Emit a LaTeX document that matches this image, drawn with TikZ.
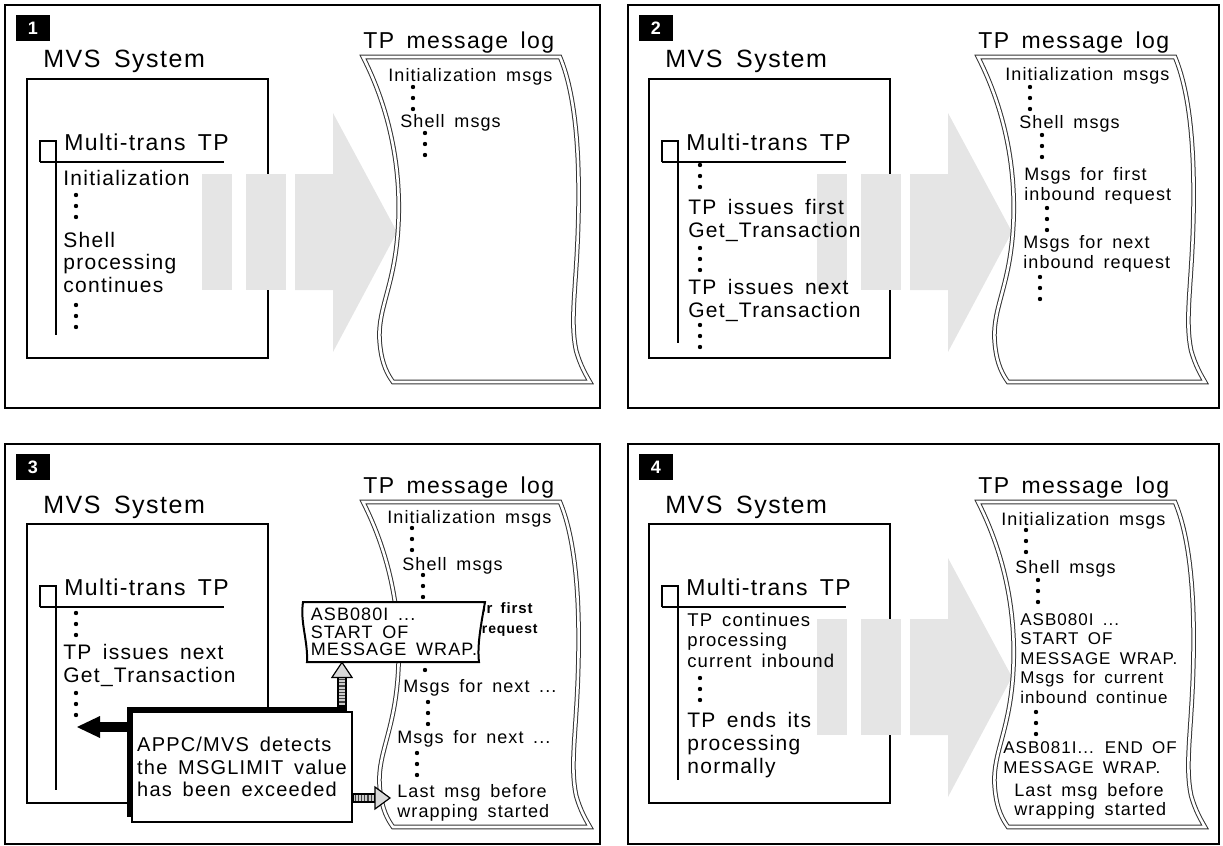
\documentclass[tikz,border=0pt]{standalone}
\usepackage{fontspec}
\setmainfont{Liberation Sans}[LetterSpace=6,WordSpace=1.6]
\usetikzlibrary{calc,shadows,patterns.meta}

\begin{document}
\begin{tikzpicture}[x=0.5pt, y=-0.5pt,
    frame/.style={draw, line width=1.2pt},
    numbox/.style={fill=black, text=white, inner sep=0pt, minimum width=17pt,
      minimum height=13pt, font=\bfseries\fontsize{9}{9}\selectfont},
    sysname/.style={anchor=base west, inner sep=0pt, font=\fontsize{12.5}{13}\selectfont},
    tpname/.style={anchor=base west, inner sep=0pt, font=\fontsize{11.5}{12}\selectfont},
    tpline/.style={anchor=base west, inner sep=0pt, align=left, font=\fontsize{10.5}{11.25}\selectfont},
    logline/.style={anchor=base west, inner sep=0pt, align=left, font=\fontsize{9}{10}\selectfont},
    mvsbox/.style={draw, line width=1.4pt},
    glyph/.style={draw, line width=1.2pt},
    scroll/.style={draw=black!80, fill=white, double=white, line width=0.5pt, double distance=1.3pt},
    graybar/.style={fill=black!10},
    striped/.style={draw, line width=0.6pt, preaction={fill=black!20}, pattern color=black!75},
    tiphead/.style={draw, line width=0.6pt, fill=black!15, line join=miter}
  ]

  \useasboundingbox (0,0) rectangle (1223,846);

  % frames and panel numbers
  \foreach \n/\fx/\fy/\fr/\fb in {1/5/5/600/408, 2/628/5/1219/408, 3/5/444/600/844, 4/628/444/1219/844} {
    \draw[frame] (\fx,\fy) rectangle (\fr,\fb);
    \node[numbox] (num\n) at (\fx+28,\fy+23) {\n};
  }

  % parts every panel has
  \foreach \n/\dx/\dy/\lx/\vb in {1/0/0/0/335, 2/622/0/-7/343, 3/0/445/0/345, 4/622/445/-7/335} {
    \begin{scope}[shift={(\dx,\dy)}]
      \node[sysname] (sys\n) at (43,68) {MVS System};
      \draw[mvsbox] (27,79) rectangle (268,358);
      \draw[glyph] (40,162) -- (40,141) -- (56,141) -- (56,\vb);
      \draw[glyph] (40,162) -- (224,162);
      \node[tpname] (tp\n) at (64,150) {Multi-trans TP};
      \ifnum\n=3 \else
        \begin{scope}[shift={(\lx,0)}]
          \fill[graybar] (202,174) rectangle (232,290);
          \fill[graybar] (246,174) rectangle (286,290);
          \fill[graybar] (295,174) -- (333,174) -- (333,113) -- (397,232)
            -- (333,352) -- (333,290) -- (295,290) -- cycle;
        \end{scope}
      \fi
      \node[tpname] (logt\n) at (363+\lx,48) {TP message log};
      \draw[scroll, shift={(\lx,0)}] (363,57) -- (560,57)
        .. controls (578,100) and (580,170) .. (578,230)
        .. controls (576,290) and (570,320) .. (576,350)
        .. controls (580,365) and (586,375) .. (590,382)
        -- (393,382)
        .. controls (388,375) and (382,365) .. (380,345)
        .. controls (376,310) and (394,290) .. (398,230)
        .. controls (402,170) and (390,110) .. cycle;
    \end{scope}
  }

  % panel 1
  \node[tpline] (init1) at (63,185) {Initialization};
  \node[tpline] (shell1) at (63,292) {Shell\\processing\\continues};
  \node[logline] (linit1) at (388,82) {Initialization msgs};
  \node[logline] (lshell1) at (400,127) {Shell msgs};
  \foreach \x/\y in {76/195, 76/305, 413/87, 425/133}
    \foreach \k in {0,1,2} \fill (\x,\y+11*\k) circle[radius=1.1pt];

  % panel 2
  \begin{scope}[shift={(622,0)}]
    \node[tpline] (first2) at (66,237) {TP issues first\\Get\_Transaction};
    \node[tpline] (next2) at (66,317) {TP issues next\\Get\_Transaction};
    \node[logline] (linit2) at (383,80) {Initialization msgs};
    \node[logline] (lshell2) at (397,128) {Shell msgs};
    \node[logline] (lfirst2) at (402,200) {Msgs for first\\inbound request};
    \node[logline] (lnext2) at (401,268) {Msgs for next\\inbound request};
    \foreach \x/\y in {78/165, 78/248, 78/325, 408/87, 420/135, 425/208, 418/277}
      \foreach \k in {0,1,2} \fill (\x,\y+11*\k) circle[radius=1.1pt];
  \end{scope}

  % panel 3
  \begin{scope}[shift={(0,445)}]
    \node[tpline] (next3) at (63,237) {TP issues next\\Get\_Transaction};
    \node[logline] (linit3) at (387,78) {Initialization msgs};
    \node[logline] (lshell3) at (402,125) {Shell msgs};
    \node[logline, anchor=base east, font=\bfseries\fontsize{7.5}{10}\selectfont] (lfirst3) at (533,168) {Msgs for first};
    \node[logline, anchor=base east, font=\bfseries\fontsize{7}{10}\selectfont] (lreq3) at (538,188) {inbound request};
    \node[logline] (lnexta3) at (403,247) {Msgs for next ...};
    \node[logline] (lnextb3) at (397,298) {Msgs for next ...};
    \node[logline] (llast3) at (397,372) {Last msg before\\wrapping started};
    \foreach \x/\y in {76/168, 76/248, 412/83, 423/130, 425/203, 428/257, 417/308}
      \foreach \k in {0,1,2} \fill (\x,\y+11*\k) circle[radius=1.1pt];

    \filldraw[fill=white, line width=1pt] (303,157) -- (485,157)
      .. controls (481,180) and (477,200) .. (479,217) -- (307,217)
      .. controls (308,195) and (300,178) .. cycle;
    \node[inner sep=0pt, minimum width=88pt, minimum height=30pt, align=left,
      font=\fontsize{9}{8.75}\selectfont] (asb) at (394,187) {ASB080I ...\\START OF\\MESSAGE WRAP.};

    \node[draw, fill=white, line width=1pt,
      general shadow={fill=black, shadow xshift=-2.5pt, shadow yshift=2.5pt},
      minimum width=110pt, minimum height=55pt, inner sep=1pt, align=left,
      font=\fontsize{10}{11.25}\selectfont] (appc) at (242,322)
      {APPC/MVS detects\\the MSGLIMIT value\\has been exceeded};

    % black arrow back into the TP
    \coordinate (tipl) at (77,282);
    \draw[line width=5pt] (appc.west |- tipl) -- ($(tipl)+(22,0)$);
    \fill (tipl) -- ($(tipl)+(23,-11)$) -- ($(tipl)+(23,11)$) -- cycle;

    % striped arrow up to the wrap message
    \coordinate (uptip) at ($(asb.south)+(-52,0)$);
    \coordinate (upbase) at ([yshift=2.5pt]appc.north -| uptip);
    \draw[striped, pattern={Lines[angle=0, distance=1.6pt, line width=0.6pt]}]
      ($(upbase)+(-4,0)$) rectangle ($(uptip)+(4,15)$);
    \draw[tiphead] (uptip) -- ($(uptip)+(10,15)$) -- ($(uptip)+(-10,15)$) -- cycle;

    % striped arrow to the last message
    \coordinate (rttip) at (390,353);
    \draw[striped, pattern={Lines[angle=90, distance=1.6pt, line width=0.6pt]}]
      ($(appc.east |- rttip)+(0,-4)$) rectangle ($(rttip)+(-15,4)$);
    \draw[tiphead] (rttip) -- ($(rttip)+(-15,-11)$) -- ($(rttip)+(-15,11)$) -- cycle;
  \end{scope}

  % panel 4
  \begin{scope}[shift={(622,445)}]
    \node[logline, font=\fontsize{9.25}{10.25}\selectfont] (cont4) at (65,222) {TP continues\\processing\\current inbound};
    \node[tpline, font=\fontsize{10.5}{11.5}\selectfont] (ends4) at (65,328) {TP ends its\\processing\\normally};
    \node[logline] (linit4) at (379,80) {Initialization msgs};
    \node[logline] (lshell4) at (393,128) {Shell msgs};
    \node[logline, font=\fontsize{8.5}{9.75}\selectfont] (lwrap4) at (398,258)
      {ASB080I ...\\START OF\\MESSAGE WRAP.\\Msgs for current\\inbound continue};
    \node[logline, font=\fontsize{8.5}{10}\selectfont] (lend4) at (381,328) {ASB081I... END OF\\MESSAGE WRAP.};
    \node[logline, font=\fontsize{9}{9.5}\selectfont] (llast4) at (392,370) {Last msg before\\wrapping started};
    \foreach \x/\y in {78/233, 404/85, 416/135, 414/267}
      \foreach \k in {0,1,2} \fill (\x,\y+11*\k) circle[radius=1.1pt];
  \end{scope}

\end{tikzpicture}
\end{document}
